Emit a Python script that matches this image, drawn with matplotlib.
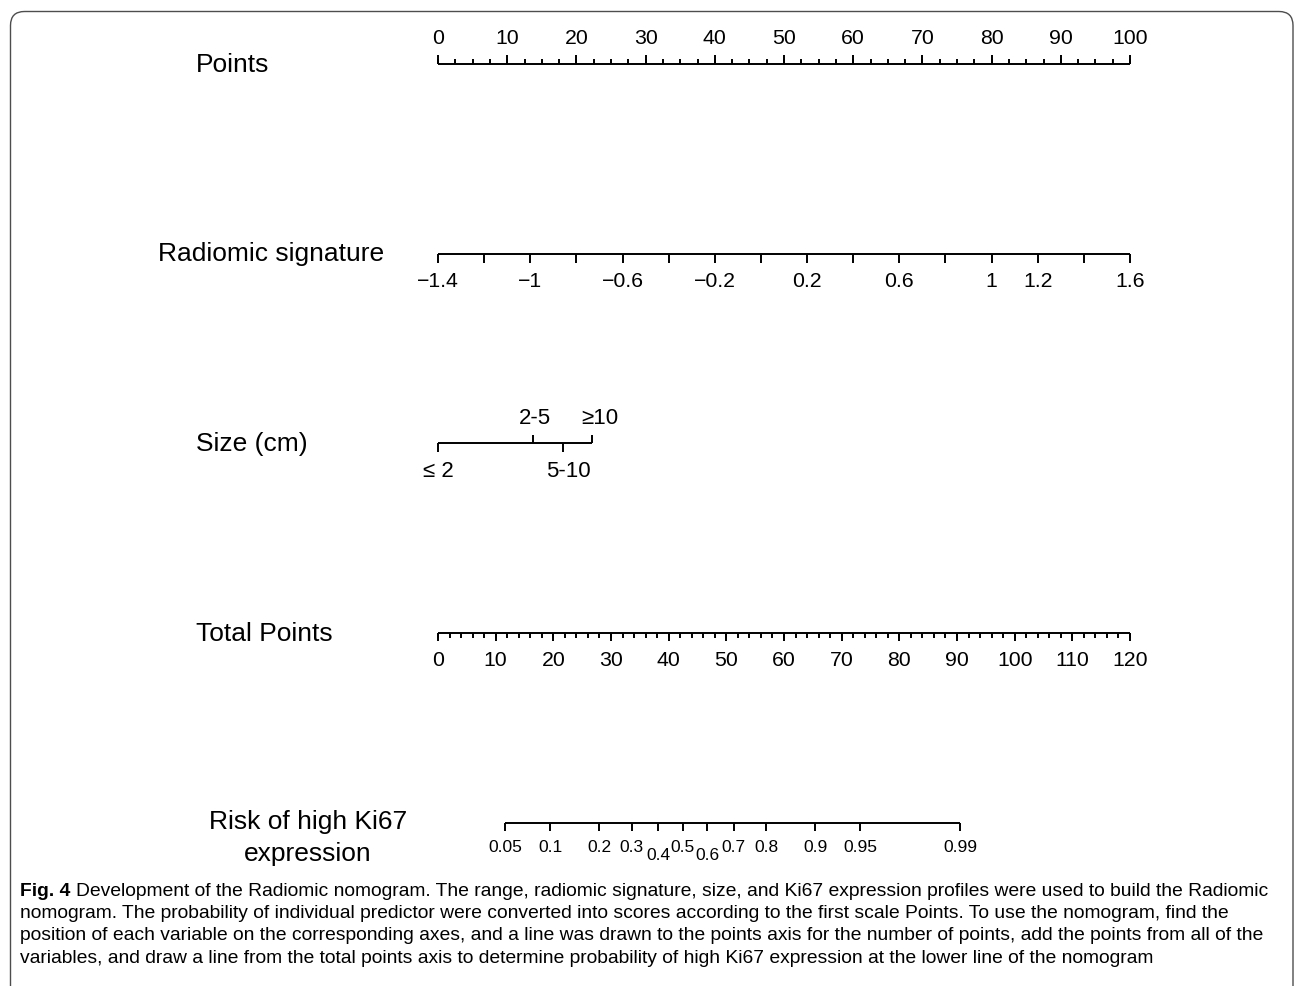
import numpy as np
import matplotlib
matplotlib.use("Agg")
import matplotlib.pyplot as plt
from matplotlib.patches import FancyBboxPatch

# ---------------- data ----------------
points_major = list(range(0, 101, 10))
points_minor_step = 2.5

radiomic_ticks = [round(-1.4 + 0.2 * i, 1) for i in range(16)]
radiomic_labels = ["\u22121.4", "\u22121", "\u22120.6", "\u22120.2", "0.2", "0.6", "1", "1.2", "1.6"]
radiomic_label_vals = [-1.4, -1.0, -0.6, -0.2, 0.2, 0.6, 1.0, 1.2, 1.6]
radiomic_min, radiomic_max = -1.4, 1.6

size_categories = ["\u2264 2", "2-5", "5-10", "\u226510"]
size_points = [0.0, 13.8, 18.0, 22.3]
size_label_side = ["below", "above", "below", "above"]

total_major = list(range(0, 121, 10))
total_minor_step = 2
total_max = 120

risk_probs = [0.05, 0.1, 0.2, 0.3, 0.4, 0.5, 0.6, 0.7, 0.8, 0.9, 0.95, 0.99]
risk_labels = ["0.05", "0.1", "0.2", "0.3", "0.4", "0.5", "0.6", "0.7", "0.8", "0.9", "0.95", "0.99"]
risk_low = [False, False, False, False, True, False, True, False, False, False, False, False]
risk_intercept = -4.054
risk_slope = 0.09555  # per total point

row_names = ["Points", "Radiomic signature", "Size (cm)", "Total Points", "Risk of high Ki67\nexpression"]

caption_lines = [
    "Development of the Radiomic nomogram. The range, radiomic signature, size, and Ki67 expression profiles were used to build the Radiomic",
    "nomogram. The probability of individual predictor were converted into scores according to the first scale Points. To use the nomogram, find the",
    "position of each variable on the corresponding axes, and a line was drawn to the points axis for the number of points, add the points from all of the",
    "variables, and draw a line from the total points axis to determine probability of high Ki67 expression at the lower line of the nomogram",
]

# ---------------- figure ----------------
W, H = 1295, 986
fig = plt.figure(figsize=(W / 100, H / 100), dpi=100)
plt.rcParams['font.family'] = ['Liberation Sans', 'DejaVu Sans']

bg = fig.add_axes([0, 0, 1, 1])
bg.set_xlim(0, W)
bg.set_ylim(H, 0)
bg.axis("off")

X0, PX_PER_PT = 438.0, 6.92
ax = fig.add_axes([0, 0, 1, 1])
ax.set_xlim(-X0 / PX_PER_PT, (W - X0) / PX_PER_PT)
ax.set_ylim(H, 0)
ax.axis("off")
ax.patch.set_alpha(0)

LW = 1.4
TICK_FS = 15.3
ROW_FS = 19
K = "black"

def rad_to_pts(v):
    return (np.asarray(v) - radiomic_min) / (radiomic_max - radiomic_min) * 100

def total_to_pts(t):
    return np.asarray(t) / total_max * 100

def prob_to_pts(p):
    p = np.asarray(p)
    lp = np.log(p / (1 - p))
    return total_to_pts((lp - risk_intercept) / risk_slope)

# --- Points row ---
y = 63.5
ax.hlines(y, 0, 100, color=K, lw=LW)
minor = np.arange(0, 100.01, points_minor_step)
ax.vlines(minor, y - 4.5, y, color=K, lw=LW)
ax.vlines(points_major, y - 9, y, color=K, lw=LW)
for v in points_major:
    ax.text(v, 39, str(v), ha="center", va="center", fontsize=TICK_FS)

# --- Radiomic row ---
y = 254
ax.hlines(y, rad_to_pts(radiomic_min), rad_to_pts(radiomic_max), color=K, lw=LW)
ax.vlines(rad_to_pts(radiomic_ticks), y, y + 9, color=K, lw=LW)
for v, s in zip(radiomic_label_vals, radiomic_labels):
    ax.text(rad_to_pts(v), 281.5, s, ha="center", va="center", fontsize=TICK_FS)

# --- Size row ---
y = 443
ax.hlines(y, min(size_points), max(size_points), color=K, lw=LW)
size_offsets = [0, 1, 6, 8]
for name, p, side, off in zip(size_categories, size_points, size_label_side, size_offsets):
    if side == "above":
        ax.vlines(p, y - 8.5, y, color=K, lw=LW)
        ax.annotate(name, (p, 419), xytext=(off, 0), textcoords="offset pixels",
                    ha="center", va="center", fontsize=16)
    else:
        ax.vlines(p, y, y + 8.5, color=K, lw=LW)
        ax.annotate(name, (p, 471.5), xytext=(off, 0), textcoords="offset pixels",
                    ha="center", va="center", fontsize=16)

# --- Total points row ---
y = 633
ax.hlines(y, 0, 100, color=K, lw=LW)
tminor = np.arange(0, total_max + 0.01, total_minor_step)
ax.vlines(total_to_pts(tminor), y, y + 4.5, color=K, lw=LW)
ax.vlines(total_to_pts(total_major), y, y + 8, color=K, lw=LW)
for v in total_major:
    ax.text(total_to_pts(v), 660, str(v), ha="center", va="center", fontsize=TICK_FS)

# --- Risk row ---
y = 823
rp = prob_to_pts(risk_probs)
ax.hlines(y, rp.min(), rp.max(), color=K, lw=LW)
ax.vlines(rp, y, y + 8, color=K, lw=LW)
for x, s, low in zip(rp, risk_labels, risk_low):
    ax.text(x, 856 if low else 847, s, ha="center", va="center", fontsize=12.5)

# --- row labels ---
bg.text(196, 65, row_names[0], ha="left", va="center", fontsize=ROW_FS)
bg.text(158, 254, row_names[1], ha="left", va="center", fontsize=ROW_FS)
bg.text(196, 444, row_names[2], ha="left", va="center", fontsize=ROW_FS)
bg.text(196, 634, row_names[3], ha="left", va="center", fontsize=ROW_FS)
bg.text(308, 838, row_names[4], ha="center", va="center", fontsize=ROW_FS, linespacing=1.4)

# --- frame ---
frame = FancyBboxPatch((10.5, 11.5), 1282.5, 1200, boxstyle="round,pad=0,rounding_size=14",
                       fill=False, edgecolor="#4d4d4d", lw=1.0)
bg.add_patch(frame)

# --- caption ---
CAP_FONT = ['Liberation Sans Narrow', 'Liberation Sans', 'DejaVu Sans']
CAP_FS = 13.9
cap_y = [891, 913.5, 936, 958.5]
bg.text(20, cap_y[0], "Fig. 4", ha="left", va="center", fontsize=CAP_FS, fontweight="bold", family=CAP_FONT)
bg.text(76, cap_y[0], caption_lines[0], ha="left", va="center", fontsize=CAP_FS, family=CAP_FONT)
for yy, line in zip(cap_y[1:], caption_lines[1:]):
    bg.text(20, yy, line, ha="left", va="center", fontsize=CAP_FS, family=CAP_FONT)

fig.savefig("out.png", dpi=100)
